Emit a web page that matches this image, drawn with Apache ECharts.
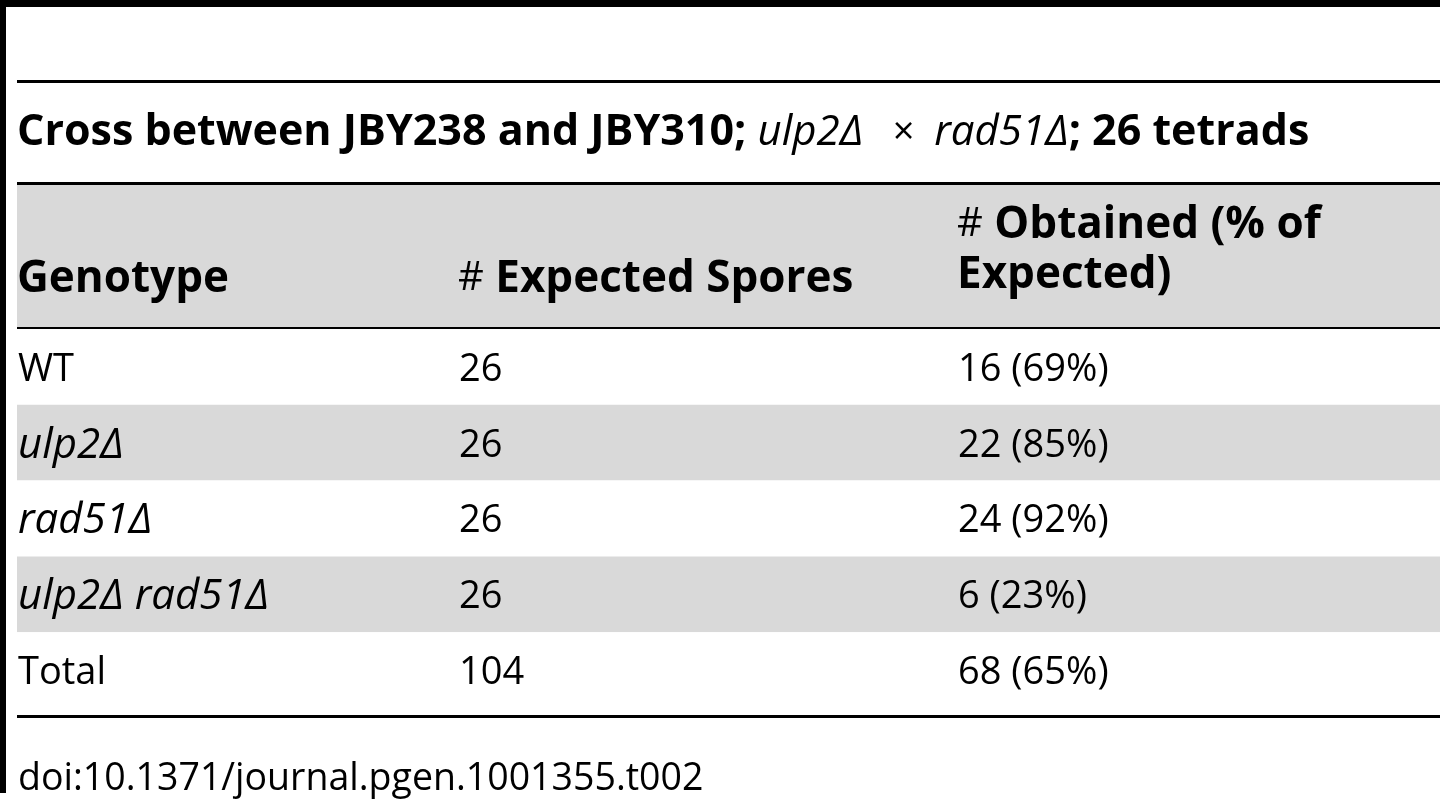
<!DOCTYPE html>
<html>
<head>
<meta charset="utf-8">
<title>Table 2</title>
<script src="https://cdn.jsdelivr.net/npm/echarts@6/dist/echarts.min.js"></script>
<style>
html,body{margin:0;padding:0;background:#fff}
#main{width:1440px;height:800px}
</style>
</head>
<body>
<div id="main"></div>
<script>
// table content
var titleText = '{tb|Cross between JBY238 and JBY310; }{ti|ulp2Δ}{r|   ×  }{ti|rad51Δ}{tb|; 26 tetrads}';
var columns = ['Genotype', '# Expected Spores', '# Obtained (% of Expected)'];
var genotypes = ['WT', 'ulp2Δ', 'rad51Δ', 'ulp2Δ rad51Δ', 'Total'];
var italicRows = [false, true, true, true, false];
var expected = [26, 26, 26, 26, 104];
var obtained = [16, 22, 24, 6, 68];
var obtainedPct = [69, 85, 92, 23, 65];
var doiText = 'doi:10.1371/journal.pgen.1001355.t002';

var FONT = '"Open Sans", "DejaVu Sans", sans-serif';
var rich = {
	r: {fontFamily: FONT, fontSize: 38, fontWeight: 'normal', fill: '#000'},
	d: {fontFamily: FONT, fontSize: 37.5, fontWeight: 'normal', fill: '#000'},
	h: {fontFamily: FONT, fontSize: 40, fontWeight: 'normal', fill: '#000'},
	b: {fontFamily: FONT, fontSize: 44, fontWeight: 'bold', fill: '#000'},
	i: {fontFamily: FONT, fontSize: 42, fontStyle: 'italic', fill: '#000'},
	tb: {fontFamily: FONT, fontSize: 43, fontWeight: 'bold', fill: '#000'},
	ti: {fontFamily: FONT, fontSize: 42, fontStyle: 'italic', fill: '#000'}
};
var colLeft = [1, 442, 941];   // text start of each column, from grid left

function cellText(c, r){
	if(c == 0){
		return italicRows[r] ? '{i|' + genotypes[r] + '}' : '{r|' + genotypes[r] + '}';
	}else if(c == 1){
		return '{r|' + expected[r] + '}';
	}
	return '{r|' + obtained[r] + ' (' + obtainedPct[r] + '%)}';
}

var cells = [];
genotypes.forEach(function(g, r){
	cells.push([0, r], [1, r], [2, r]);
});

function txt(x, y, text){
	return {
		type: 'text', x: x, y: y, silent: true,
		style: {text: text, rich: rich, fill: '#000', verticalAlign: 'middle', align: 'left', lineHeight: 50}
	};
}
function bar(x, y, w, h, color){
	return {type: 'rect', silent: true, shape: {x: x, y: y, width: w, height: h}, style: {fill: color || '#000'}};
}

var chart = echarts.init(document.getElementById('main'));
var option = {
	backgroundColor: '#fff',
	animation: false,
	grid: {left: 17, right: 0, top: 329, height: 379},
	xAxis: {type: 'category', data: columns, show: false},
	yAxis: {
		type: 'category',
		data: genotypes,
		inverse: true,
		axisLine: {show: false},
		axisTick: {show: false},
		axisLabel: {show: false},
		splitLine: {show: false},
		splitArea: {show: true, areaStyle: {color: ['#ffffff', '#d9d9d9']}}
	},
	graphic: [
		bar(17, 184, 1423, 143, '#d9d9d9'),  // header band
		bar(0, 0, 1440, 7),
		bar(0, 0, 6, 793),
		bar(17, 80, 1423, 3),
		bar(17, 182, 1423, 3),
		bar(17, 327, 1423, 3),
		bar(17, 715, 1423, 3),
		txt(17, 133, titleText),
		txt(17, 279, '{b|' + columns[0] + '}'),
		txt(458, 279, '{h|#}{b| Expected Spores}'),
		txt(957, 250, '{h|#}{b| Obtained (% of}\n{b|Expected)}'),
		txt(18, 779, '{d|' + doiText + '}')
	],
	series: [{
		type: 'custom',
		silent: true,
		data: cells,
		renderItem: function(params, api){
			var c = api.value(0), r = api.value(1);
			var pt = api.coord([c, r]);
			return {
				type: 'text',
				x: params.coordSys.x + colLeft[c],
				y: pt[1] + 3,
				style: {text: cellText(c, r), rich: rich, fill: '#000', verticalAlign: 'middle', align: 'left'}
			};
		}
	}]
};
chart.setOption(option);
</script>
</body>
</html>
